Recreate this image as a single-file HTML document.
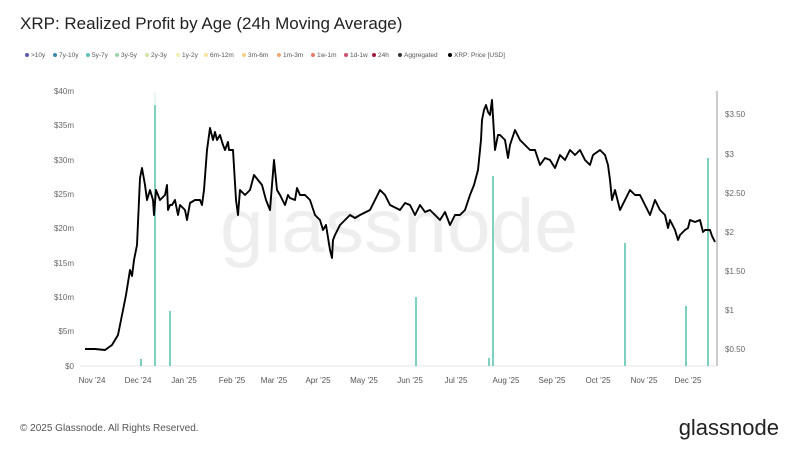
<!DOCTYPE html>
<html><head><meta charset="utf-8"><style>
html,body{margin:0;padding:0;background:#fff;}
body{width:800px;height:450px;overflow:hidden;font-family:"Liberation Sans",sans-serif;}
</style></head><body>
<svg width="800" height="450" xmlns="http://www.w3.org/2000/svg" font-family="Liberation Sans, sans-serif">
<text x="20" y="29" font-size="17" fill="#222">XRP: Realized Profit by Age (24h Moving Average)</text>
<g font-size="6.5" fill="#555">
<circle cx="27" cy="55" r="2" fill="#5b5aa8"/><text x="31" y="57">&gt;10y</text>
<circle cx="55" cy="55" r="2" fill="#3b8bb0"/><text x="59" y="57">7y-10y</text>
<circle cx="88" cy="55" r="2" fill="#5ec4bb"/><text x="92" y="57">5y-7y</text>
<circle cx="117" cy="55" r="2" fill="#9cd6a8"/><text x="121" y="57">3y-5y</text>
<circle cx="147" cy="55" r="2" fill="#cfe6a0"/><text x="151" y="57">2y-3y</text>
<circle cx="178" cy="55" r="2" fill="#f5f0b0"/><text x="182" y="57">1y-2y</text>
<circle cx="206" cy="55" r="2" fill="#f6e49a"/><text x="210" y="57">6m-12m</text>
<circle cx="244" cy="55" r="2" fill="#f3cf88"/><text x="248" y="57">3m-6m</text>
<circle cx="279" cy="55" r="2" fill="#f0a870"/><text x="283" y="57">1m-3m</text>
<circle cx="313" cy="55" r="2" fill="#e87c6a"/><text x="317" y="57">1w-1m</text>
<circle cx="346" cy="55" r="2" fill="#d24f6a"/><text x="350" y="57">1d-1w</text>
<circle cx="374" cy="55" r="2" fill="#a0173c"/><text x="378" y="57">24h</text>
<circle cx="400" cy="55" r="2" fill="#333"/><text x="404" y="57">Aggregated</text>
<circle cx="450" cy="55" r="2" fill="#000"/><text x="454" y="57">XRP: Price [USD]</text>
</g>
<text x="399" y="252" font-size="76" fill="#eeeeee" text-anchor="middle" textLength="358" lengthAdjust="spacingAndGlyphs">glassnode</text>
<g font-size="8" fill="#666" text-anchor="end">
<text x="74" y="94">$40m</text><text x="74" y="128">$35m</text><text x="74" y="163">$30m</text>
<text x="74" y="197">$25m</text><text x="74" y="231">$20m</text><text x="74" y="266">$15m</text>
<text x="74" y="300">$10m</text><text x="74" y="334">$5m</text><text x="74" y="369">$0</text>
</g>
<line x1="80" y1="366" x2="716" y2="366" stroke="#e6e6e6" stroke-width="1"/>
<line x1="717" y1="91" x2="717" y2="366" stroke="#999" stroke-width="1"/>
<g font-size="8" fill="#666">
<text x="725" y="117">$3.50</text><text x="725" y="157">$3</text><text x="725" y="196">$2.50</text>
<text x="725" y="235">$2</text><text x="725" y="274">$1.50</text><text x="725" y="313">$1</text><text x="725" y="352">$0.50</text>
</g>
<g font-size="8" fill="#555" text-anchor="middle">
<text x="92" y="383">Nov '24</text><text x="138" y="383">Dec '24</text><text x="184" y="383">Jan '25</text>
<text x="232" y="383">Feb '25</text><text x="274" y="383">Mar '25</text><text x="318" y="383">Apr '25</text>
<text x="364" y="383">May '25</text><text x="410" y="383">Jun '25</text><text x="456" y="383">Jul '25</text>
<text x="506" y="383">Aug '25</text><text x="552" y="383">Sep '25</text><text x="598" y="383">Oct '25</text>
<text x="644" y="383">Nov '25</text><text x="688" y="383">Dec '25</text>
</g>
<g stroke="#5ec4b0" stroke-width="1.6">
<line x1="155" y1="366" x2="155" y2="105"/>
<line x1="170" y1="366" x2="170" y2="311"/>
<line x1="416" y1="366" x2="416" y2="297"/>
<line x1="493" y1="366" x2="493" y2="176"/>
<line x1="625" y1="366" x2="625" y2="243"/>
<line x1="686" y1="366" x2="686" y2="306"/>
<line x1="708" y1="366" x2="708" y2="158"/>
<line x1="141" y1="366" x2="141" y2="359"/>
<line x1="489" y1="366" x2="489" y2="358"/>
</g>
<line x1="155" y1="105" x2="155" y2="92" stroke="#cdeee8" stroke-width="1"/>
<polyline fill="none" stroke="#000" stroke-width="1.9" stroke-linejoin="round" points="85,349 95,349 105,350 112,345 118,335 122,315 126,295 130,270 132,276 134,260 137,245 140,178 142,168 145,185 147,200 150,190 153,200 154,215 156,190 160,200 165,195 167,185 168,210 170,205 172,205 175,200 178,215 180,205 185,210 187,220 190,203 195,200 200,200 202,205 204,190 207,150 210,128 213,140 215,132 217,140 220,135 223,145 225,150 228,142 229,150 233,150 236,200 238,215 240,190 245,195 250,190 254,175 258,180 262,185 266,200 270,210 274,160 277,190 280,195 285,205 288,195 290,198 295,200 297,188 300,195 305,195 310,200 315,215 320,220 323,230 326,225 330,250 332,258 333,240 335,235 340,225 345,220 350,215 355,218 360,215 370,210 375,200 380,190 385,195 390,205 400,210 405,203 410,205 415,215 420,205 425,212 430,210 435,215 440,220 445,212 450,225 455,215 460,215 465,210 470,195 474,185 478,170 481,140 482,120 484,110 486,105 488,112 490,115 492,100 495,150 498,135 500,135 505,140 508,158 510,145 515,130 520,140 525,145 530,150 535,150 540,165 545,158 550,160 555,168 560,155 565,160 570,150 575,155 580,150 585,160 590,165 593,155 600,150 605,155 608,165 610,180 612,200 615,190 620,210 625,200 630,190 635,195 640,195 645,205 650,215 655,200 660,210 665,215 668,228 670,220 675,230 678,240 680,235 685,230 688,228 690,220 695,222 700,220 703,232 705,230 710,230 712,236 715,242"/>
<text x="20" y="431" font-size="10" fill="#555">© 2025 Glassnode. All Rights Reserved.</text>
<text x="779" y="435" font-size="22" fill="#222" text-anchor="end">glassnode</text>
</svg>
</body></html>
